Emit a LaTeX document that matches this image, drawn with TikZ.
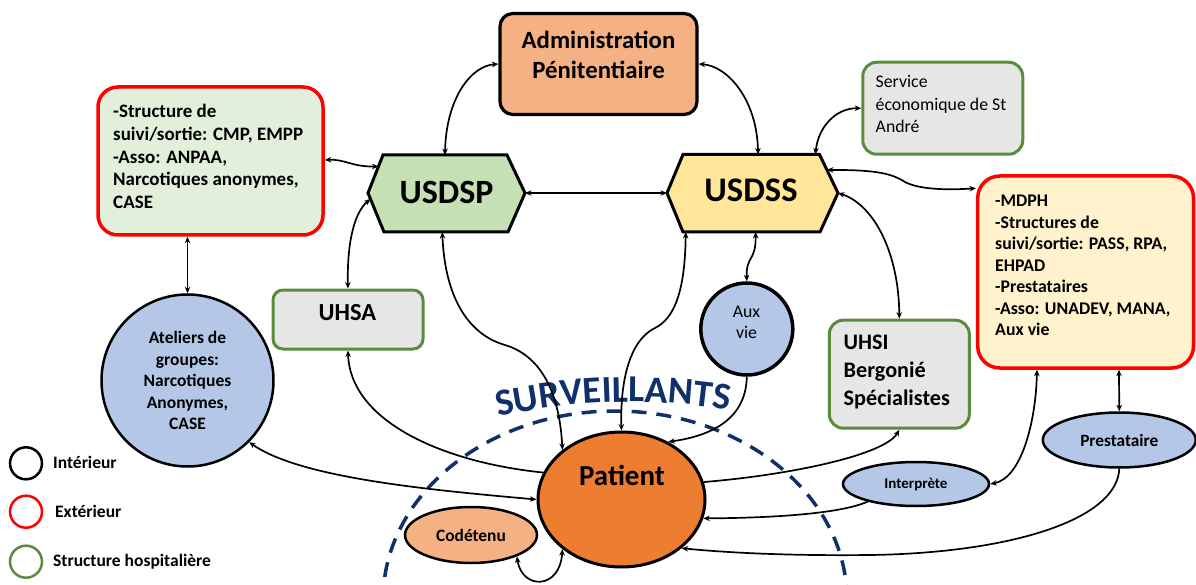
\documentclass[tikz,border=0pt]{standalone}
\usepackage{fontspec}
\setmainfont{Carlito}
\usetikzlibrary{arrows.meta,shapes.geometric,decorations.text,calc}
\definecolor{admfill}{HTML}{F4B183}
\definecolor{patfill}{HTML}{ED7D31}
\definecolor{dspfill}{HTML}{C5E0B4}
\definecolor{dssfill}{HTML}{FFE699}
\definecolor{lbfill}{HTML}{E2EFDA}
\definecolor{rbfill}{HTML}{FFF2CC}
\definecolor{greyfill}{HTML}{E7E6E6}
\definecolor{hospgreen}{HTML}{5B8C3E}
\definecolor{bluefill}{HTML}{B4C7E7}
\definecolor{extred}{HTML}{FF0000}
\definecolor{survblue}{HTML}{10306C}
\newcommand{\myfs}[2]{\fontsize{#1}{#2}\selectfont}
\begin{document}
\begin{tikzpicture}[x=1pt,y=-1pt,
  >={Stealth[length=6.5pt,width=5.5pt]},
  conn/.style={line width=1.7pt},
  intbox/.style={draw=black, line width=3.2pt, rounded corners=13pt},
  extbox/.style={draw=extred, line width=3.5pt},
  hospbox/.style={draw=hospgreen, line width=3pt, fill=greyfill},
  hexa/.style={draw=black, line width=3pt, line join=miter},
  oval/.style={ellipse, draw=black, line width=2.5pt, inner sep=0pt},
  txt/.style={inner sep=0pt},
  legc/.style={circle, line width=2.5pt, minimum size=32pt, inner sep=0pt},
]
\fill[white] (0,0) rectangle (1196,585);
\useasboundingbox (0,0) rectangle (1196,585);

% surveillants zone
\draw[survblue, line width=3.5pt, dash pattern=on 15pt off 10pt] (615,600) ellipse [x radius=232pt, y radius=189pt];
\path[decorate, decoration={text along path, text align=center, text color=survblue,
  text={|\myfs{38}{40}\bfseries|SURVEILLANTS}}]
  (481,421) .. controls (567.5,398.8) and (658.4,396) .. (746,413);

% boxes
\node[intbox, fill=admfill, minimum width=197pt, minimum height=101pt] (adm) at (598.5,64) {};
\node[txt, align=center, font=\myfs{24.8}{30}\bfseries] (admT) at (598.5,55) {Administration\\Pénitentiaire};

\node[extbox, rounded corners=20pt, fill=lbfill, minimum width=225pt, minimum height=148pt] (lb) at (210.5,161) {};
\node[txt, anchor=west, align=left, font=\myfs{19}{22.7}\bfseries] (lbT) at (113,156.5)
  {-Structure de\\suivi/sortie: CMP, EMPP\\-Asso: ANPAA,\\Narcotiques anonymes,\\CASE};

\node[hospbox, rounded corners=14pt, minimum width=160pt, minimum height=92pt] (se) at (942.75,108.25) {};
\node[txt, anchor=west, align=left, font=\myfs{17.8}{22.3}] (seT) at (875.5,104)
  {Service\\économique de St\\André};

\node[extbox, rounded corners=22pt, fill=rbfill, minimum width=215.8pt, minimum height=192pt] (rb) at (1085.6,272) {};
\node[txt, anchor=west, align=left, font=\myfs{17.8}{21.5}\bfseries] (rbT) at (995,265.6)
  {-MDPH\\-Structures de\\suivi/sortie: PASS, RPA,\\EHPAD\\-Prestataires\\-Asso: UNADEV, MANA,\\Aux vie};

\node[hospbox, rounded corners=10pt, minimum width=150pt, minimum height=59pt] (uhsa) at (348,319.5) {};
\node[txt, font=\myfs{24.5}{28}\bfseries] (uhsaT) at (347.5,313) {UHSA};

\node[hospbox, rounded corners=14pt, minimum width=140pt, minimum height=108pt] (uhsi) at (899.3,374.2) {};
\node[txt, anchor=west, align=left, font=\myfs{22.2}{28}\bfseries] (uhsiT) at (843.5,371.5)
  {UHSI\\Bergonié\\Spécialistes};

\node[circle, draw=black, line width=3.5pt, fill=bluefill, minimum size=92pt, inner sep=0pt] (aux) at (746.8,329) {};
\node[txt, align=center, font=\myfs{17.8}{21}] (auxT) at (746.5,322) {Aux\\vie};

\node[circle, draw=black, line width=2.5pt, fill=bluefill, minimum size=172pt, inner sep=0pt,
  align=center, font=\myfs{17.5}{21.5}\bfseries] (at) at (187.5,380.5)
  {Ateliers de\\groupes:\\Narcotiques\\Anonymes,\\CASE};

\node[oval, line width=3pt, fill=patfill, minimum width=167pt, minimum height=135pt] (pat) at (621.5,499.5) {};
\node[txt, font=\myfs{29}{32}\bfseries] (patT) at (622,475) {Patient};

\node[oval, fill=admfill, minimum width=132pt, minimum height=56pt, font=\myfs{17.4}{20}\bfseries] (cod) at (471,535) {Codétenu};
\node[oval, fill=bluefill, minimum width=146pt, minimum height=44pt, font=\myfs{15}{18}\bfseries] (int) at (916,484) {Interprète};
\node[oval, fill=bluefill, minimum width=153pt, minimum height=55pt, font=\myfs{17.3}{20}\bfseries] (pre) at (1119.3,440) {Prestataire};

% hexagons
\coordinate (dspNW) at (383,155);
\coordinate (dspNE) at (507,155);
\coordinate (dspE) at (525,193);
\coordinate (dspSE) at (508,232);
\coordinate (dspSW) at (384,232);
\coordinate (dspW) at (368,193);
\filldraw[hexa, fill=dspfill] (dspNW) -- (dspNE) -- (dspE) -- (dspSE) -- (dspSW) -- (dspW) -- cycle;
\node[txt, font=\myfs{34}{40}\bfseries] (dsp) at (446.5,192) {USDSP};

\coordinate (dssNW) at (683,154.5);
\coordinate (dssNE) at (819.5,154.5);
\coordinate (dssE) at (838,193);
\coordinate (dssSE) at (820,232);
\coordinate (dssSW) at (683,232);
\coordinate (dssW) at (667,193);
\filldraw[hexa, fill=dssfill] (dssNW) -- (dssNE) -- (dssE) -- (dssSE) -- (dssSW) -- (dssW) -- cycle;
\node[txt, font=\myfs{34.5}{40}\bfseries] (dss) at (751,190.5) {USDSS};

% legend
\node[legc, draw=black] (lg1) at (26,463.3) {};
\node[txt, anchor=west, font=\myfs{17.5}{20}\bfseries] (lg1t) at (53,462) {Intérieur};
\node[legc, draw=extred] (lg2) at (26,511.7) {};
\node[txt, anchor=west, font=\myfs{17.5}{20}\bfseries] (lg2t) at (55,511) {Extérieur};
\node[legc, draw=hospgreen] (lg3) at (26,561.7) {};
\node[txt, anchor=west, font=\myfs{17.5}{20}\bfseries] (lg3t) at (53,562) {Structure hospitalière};

% connectors
\draw[conn,<->] (adm.west) .. controls (470,66) and (446,100) .. ($(dspNW)!0.5!(dspNE)$);
\draw[conn,<->] (adm.east) .. controls (728,66) and (757,100) .. ($(dssNW)!0.55!(dssNE)$);
\draw[conn,<->] (dspE) -- (dssW);
\draw[conn,<->] (lb.east |- 0,160) .. controls (345,159) and (352,167) .. ($(dspNW)!0.3!(dspW)$);
\draw[conn,<->] (lb.south -| at.north) -- (at.north);
\draw[conn,<->] ($(dspW)!0.15!(dspSW)$) .. controls (352,215) and (347,250) .. (uhsa.north);
\draw[conn,<->] ($(dspSW)!0.47!(dspSE)$) .. controls (445,300) and (470,335) .. (505,345)
  .. controls (545,357) and (560,400) .. (pat.140);
\draw[conn,<->] ($(dssSW)!0.02!(dssSE)$) .. controls (685,290) and (675,318) .. (655,328)
  .. controls (630,340) and (620,380) .. (pat.north);
\draw[conn,<->] ($(dssSW)!0.53!(dssSE)$) .. controls (756,262) and (746,255) .. (aux.north);
\draw[conn,<->] (dssE) .. controls (875,205) and (899,255) .. (uhsi.north);
\draw[conn,<->] ($(dssNW)!0.97!(dssNE)$) .. controls (818,128) and (835,108) .. (se.west);
\draw[conn,<->] ($(dssNE)!0.4!(dssE)$) .. controls (870,170) and (890,172) .. (905,182)
  .. controls (920,190) and (950,190) .. ($(rb.north west)+(0,14)$);
\draw[conn,->] (pat.161) .. controls (440,462) and (350,420) .. (uhsa.south);
\draw[conn,<->] (at.-45) .. controls (300,478) and (430,490) .. (pat.180);
\draw[conn,->] (aux.south) .. controls (746,420) and (710,436) .. (pat.51);
\draw[conn,->] (pat.12) .. controls (790,475) and (885,455) .. (uhsi.south);
\draw[conn,->] (int.200) .. controls (840,514) and (770,518) .. (pat.-13);
\draw[conn,<->] ($(rb.south west)+(61,0)$) .. controls (1036,420) and (1022,478) .. (int.east);
\draw[conn,<->] ($(rb.south west)+(143,0)$) -- (pre.north);
\draw[conn,->] (pre.south) .. controls (1117,520) and (1010,553) .. (870,555)
  .. controls (780,556) and (720,552) .. (pat.-39);
\draw[conn,<->] (cod.-25) .. controls (522,590) and (560,590) .. (pat.-140);
\end{tikzpicture}
\end{document}
